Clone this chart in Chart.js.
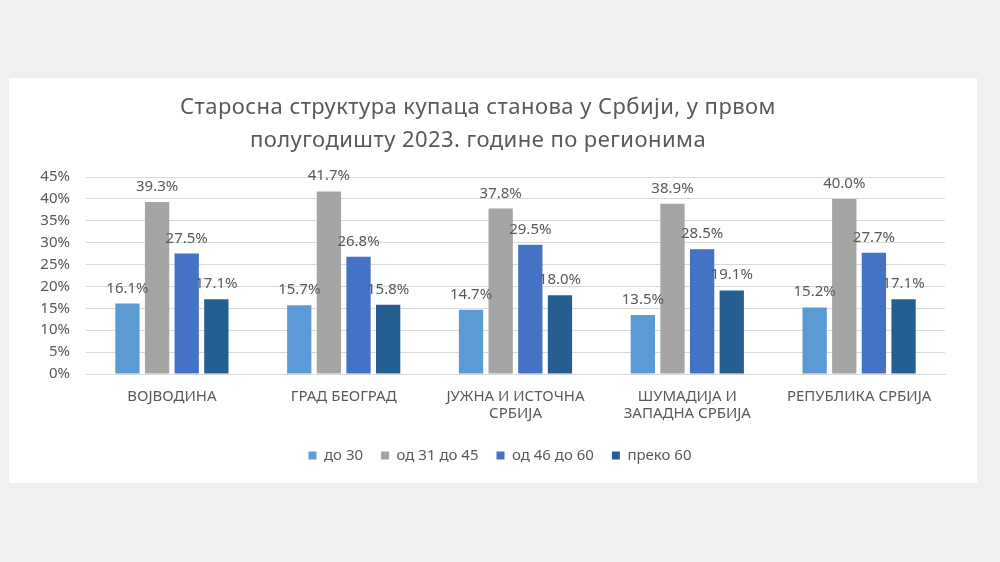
<!DOCTYPE html>
<html>
<head>
<meta charset="utf-8">
<script src="https://cdn.jsdelivr.net/npm/chart.js@4.4.0/dist/chart.umd.min.js"></script>
<style>
  body { margin: 0; background: #f0f0f0; width: 1000px; height: 562px; overflow: hidden; position: relative; }
  #panel { position: absolute; left: 9px; top: 78px; width: 968px; height: 405px; background: #fff; }
  #title { position: absolute; left: 128px; top: 89px; width: 700px; text-align: center;
           font-family: "Noto Sans", sans-serif; font-size: 22px; letter-spacing: 0.45px; line-height: 33px; color: #595959; }
</style>
</head>
<body>
<div id="panel"><canvas id="bars"></canvas></div>
<div id="title">Старосна структура купаца станова у Србији, у првом<br>полугодишту 2023. године по регионима</div>
<script>
// regions (x axis)
var regions = ["ВОЈВОДИНА", "ГРАД БЕОГРАД", ["ЈУЖНА И ИСТОЧНА", "СРБИЈА"], ["ШУМАДИЈА И", "ЗАПАДНА СРБИЈА"], "РЕПУБЛИКА СРБИЈА"];
var seriesNames = ["до 30", "од 31 до 45", "од 46 до 60", "преко 60"];
var seriesColors = ["#5B9BD5", "#A5A5A5", "#4472C4", "#255E91"];

// shares in %
var upTo30 = [16.1, 15.7, 14.7, 13.5, 15.2];
var from31to45 = [39.3, 41.7, 37.8, 38.9, 40.0];
var from46to60 = [27.5, 26.8, 29.5, 28.5, 27.7];
var over60 = [17.1, 15.8, 18.0, 19.1, 17.1];

var yTicks = [0, 5, 10, 15, 20, 25, 30, 35, 40, 45];

var txtColor = "#595959";
var fontFam = "'Noto Sans', sans-serif";

// value labels above the bars
var valueLabels = {
  id: "valueLabels",
  afterDatasetsDraw: function (chart) {
    var ctx = chart.ctx;
    ctx.save();
    ctx.font = "15px " + fontFam;
    ctx.fillStyle = txtColor;
    ctx.textAlign = "center";
    ctx.textBaseline = "alphabetic";
    chart.data.datasets.forEach(function (ds, i) {
      chart.getDatasetMeta(i).data.forEach(function (bar, j) {
        ctx.fillText(ds.data[j].toFixed(1) + "%", bar.x, bar.y - 11);
      });
    });
    ctx.restore();
  }
};

// legend sits a bit right of the plot centre in the original
var legendShift = {
  id: "legendShift",
  afterLayout: function (chart) {
    chart.legend.left += 23;
    chart.legend.right += 23;
  }
};

var allData = [upTo30, from31to45, from46to60, over60];

new Chart(document.getElementById("bars"), {
  type: "bar",
  data: {
    labels: regions,
    datasets: seriesNames.map(function (name, i) {
      return {
        label: name,
        data: allData[i],
        backgroundColor: seriesColors[i],
        categoryPercentage: 0.69,
        barPercentage: 0.82
      };
    })
  },
  options: {
    responsive: true,
    maintainAspectRatio: false,
    animation: false,
    layout: { padding: { top: 99, right: 32, bottom: 10, left: 0 } },
    plugins: {
      tooltip: { enabled: false },
      legend: {
        position: "bottom",
        labels: {
          boxWidth: 8, boxHeight: 8, padding: 18,
          color: txtColor,
          font: { family: fontFam, size: 15 }
        }
      }
    },
    scales: {
      x: {
        grid: { display: false },
        border: { display: true, color: "#d9d9d9" },
        ticks: {
          color: txtColor, padding: 6, maxRotation: 0, autoSkip: false,
          font: { family: fontFam, size: 15, lineHeight: 1.15 }
        },
        afterFit: function (scale) { scale.height = 56; }
      },
      y: {
        min: 0, max: 45,
        afterBuildTicks: function (scale) {
          scale.ticks = yTicks.map(function (v) { return { value: v }; });
        },
        grid: { color: "#d9d9d9", drawTicks: false },
        border: { display: false },
        ticks: {
          color: txtColor, padding: 16,
          font: { family: fontFam, size: 15 },
          callback: function (v) { return v + "%"; }
        },
        afterFit: function (scale) { scale.width = 77; }
      }
    }
  },
  plugins: [valueLabels, legendShift]
});
</script>
</body>
</html>
